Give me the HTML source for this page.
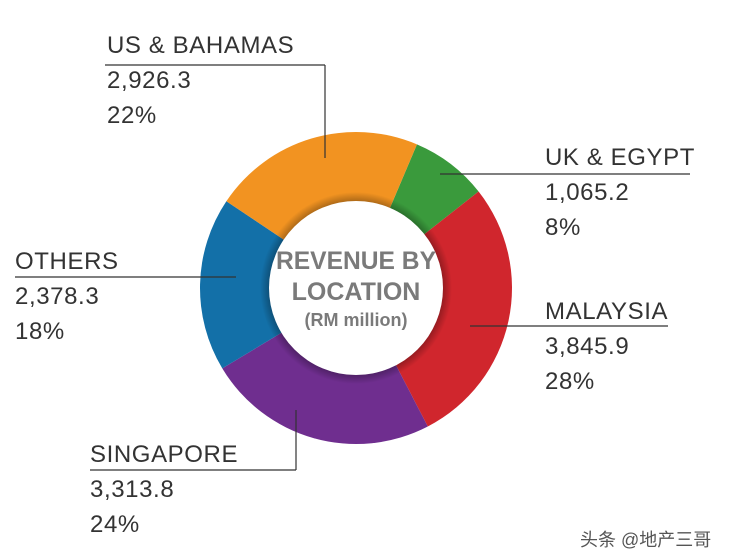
<!DOCTYPE html>
<html><head><meta charset="utf-8"><style>
body{margin:0;width:732px;height:560px;background:#fff;overflow:hidden;position:relative;font-family:"Liberation Sans","Noto Sans CJK SC",sans-serif}
.l{position:absolute;font-size:24px;color:#333;line-height:35px;letter-spacing:0.6px}
</style></head><body>
<svg width="732" height="560" style="position:absolute;left:0;top:0">
<defs><radialGradient id="sh"><stop offset="0.88" stop-color="#000" stop-opacity="0.35"/><stop offset="1" stop-color="#000" stop-opacity="0"/></radialGradient></defs>
<g id="g" transform="translate(356,288)"></g>
<line x1="105" y1="65" x2="325" y2="65" stroke="#333" stroke-width="1.2"/>
<line x1="325" y1="65" x2="325" y2="158" stroke="#333" stroke-width="1.2"/>
<line x1="440" y1="174" x2="690" y2="174" stroke="#333" stroke-width="1.2"/>
<line x1="470" y1="326" x2="668" y2="326" stroke="#333" stroke-width="1.2"/>
<line x1="15" y1="277" x2="236" y2="277" stroke="#333" stroke-width="1.2"/>
<line x1="90" y1="470" x2="296" y2="470" stroke="#333" stroke-width="1.2"/>
<line x1="296" y1="470" x2="296" y2="410" stroke="#333" stroke-width="1.2"/>
</svg>
<script>
var segs=[[23,51.8,"#3a9a3c"],[51.8,152.6,"#d0262d"],[152.6,239,"#6f2e8f"],[239,303.8,"#1370a8"],[303.8,383,"#f29321"]];
var R=156,s="";
function pt(a,rad){a=a*Math.PI/180;return (rad*Math.sin(a)).toFixed(2)+","+(-rad*Math.cos(a)).toFixed(2);}
segs.forEach(function(q){var lg=(q[1]-q[0])>180?1:0;s+='<path fill="'+q[2]+'" d="M'+pt(q[0],R)+' A'+R+','+R+' 0 '+lg+' 1 '+pt(q[1],R)+' L0,0 Z"/>';});
s+='<circle r="96" fill="url(#sh)"/><circle r="87" fill="#fff"/>';
s+='<text x="0" y="-19" text-anchor="middle" font-family="Liberation Sans" font-weight="bold" font-size="25" fill="#7a7a7a" textLength="160" lengthAdjust="spacingAndGlyphs">REVENUE BY</text>';
s+='<text x="0" y="12" text-anchor="middle" font-family="Liberation Sans" font-weight="bold" font-size="25" fill="#7a7a7a">LOCATION</text>';
s+='<text x="0" y="38" text-anchor="middle" font-family="Liberation Sans" font-weight="bold" font-size="18" fill="#7a7a7a">(RM million)</text>';
document.getElementById("g").innerHTML=s;
</script>
<div class="l" style="left:107px;top:28px">US &amp; BAHAMAS<br>2,926.3<br>22%</div>
<div class="l" style="left:545px;top:140px">UK &amp; EGYPT<br>1,065.2<br>8%</div>
<div class="l" style="left:545px;top:294px">MALAYSIA<br>3,845.9<br>28%</div>
<div class="l" style="left:15px;top:244px">OTHERS<br>2,378.3<br>18%</div>
<div class="l" style="left:90px;top:437px">SINGAPORE<br>3,313.8<br>24%</div>
<div style="position:absolute;left:580px;top:526px;font-size:18px;color:#555">头条 @地产三哥</div>
</body></html>
